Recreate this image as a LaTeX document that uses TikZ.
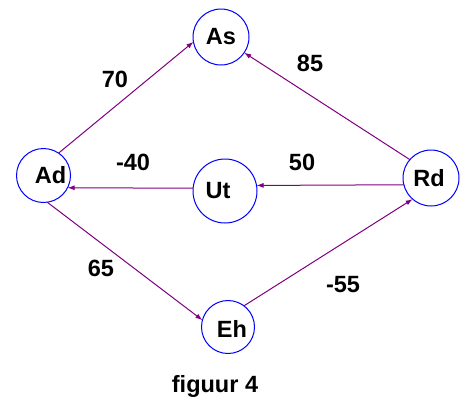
\documentclass[tikz,border=0pt]{standalone}
\usepackage{fontspec}
\setmainfont{Liberation Sans}
\usetikzlibrary{arrows.meta}
\definecolor{edgecol}{RGB}{128,0,128}
\definecolor{circcol}{RGB}{0,0,255}
\tikzset{
  state/.style={circle, draw=circcol, line width=1pt, inner sep=0pt, outer sep=0pt},
  edge/.style={draw=edgecol, line width=1pt, -{Latex[length=7pt,width=5pt]}},
  lbl/.style={font=\fontsize{23.5}{23.5}\selectfont\bfseries, inner sep=0pt},
  wlbl/.style={font=\fontsize{23.5}{23.5}\selectfont\bfseries, inner sep=0pt}
}
\begin{document}
\begin{tikzpicture}[x=1pt,y=-1pt]
\useasboundingbox[fill=white] (0,0) rectangle (460,405);
\node[state, minimum size=56pt, label={[lbl]center:As}] (As) at (221,37) {};
\node[state, minimum size=54pt, label={[lbl,xshift=7pt]center:Ad}] (Ad) at (43.5,175.5) {};
\node[state, minimum size=64pt, label={[lbl,xshift=-7pt]center:Ut}] (Ut) at (225,191) {};
\node[state, minimum size=56pt, label={[lbl,xshift=-2pt]center:Rd}] (Rd) at (431,178) {};
\node[state, minimum size=53pt, label={[lbl,xshift=4pt,yshift=-2pt]center:Eh}] (Eh) at (228,327) {};

\draw[edge] (Ad.56) -- (As.190);
\draw[edge] (Rd.139) -- (As.326);
\draw[edge] (Ut.175) -- (Ad.333);
\draw[edge] (Rd.194) -- (Ut.10);
\draw[edge] (Ad.278) -- (Eh.165);
\draw[edge] (Eh.53) -- (Rd.229);

\node[wlbl] (l70) at (115,79) {70};
\node[wlbl] (l85) at (310,63) {85};
\node[wlbl] (lm40) at (133,162) {-40};
\node[wlbl] (l50) at (302,162) {50};
\node[wlbl] (l65) at (101,268) {65};
\node[wlbl] (lm55) at (343,285) {-55};
\node[wlbl] (cap) at (215,386) {figuur 4};
\end{tikzpicture}
\end{document}
